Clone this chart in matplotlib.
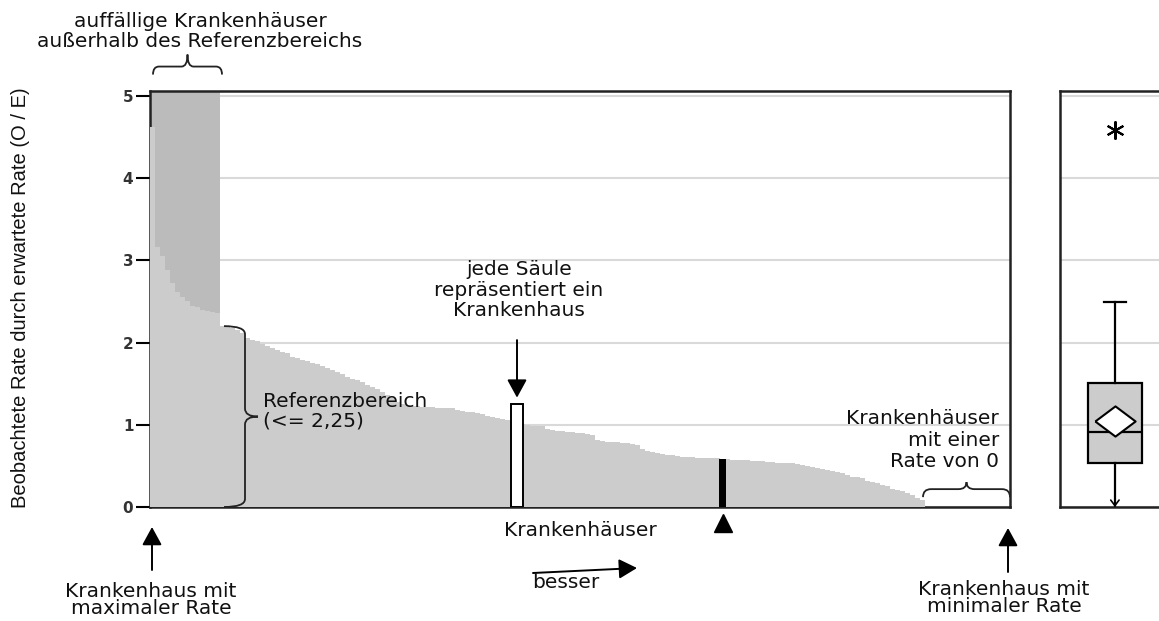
import matplotlib.pyplot as plt
from matplotlib.path import Path
from matplotlib.patches import PathPatch
from matplotlib.transforms import IdentityTransform

# O/E rate per hospital, sorted from highest to lowest
rate = [4.62, 3.16, 3.05, 2.88, 2.72, 2.62, 2.55, 2.50, 2.45, 2.43, 2.40, 2.38, 2.37, 2.36,
        2.20, 2.19, 2.18, 2.15, 2.12, 2.05, 2.03, 2.02,
        1.98, 1.96, 1.93, 1.91, 1.89, 1.87, 1.82, 1.81, 1.79, 1.77, 1.75, 1.74,
        1.72, 1.69, 1.67, 1.64, 1.62, 1.58, 1.56, 1.54, 1.52, 1.49, 1.46,
        1.44, 1.40, 1.36, 1.33, 1.28, 1.25, 1.24, 1.23, 1.23, 1.22, 1.22, 1.22, 1.21, 1.21, 1.20, 1.20,
        1.18, 1.17, 1.16, 1.15, 1.14, 1.13, 1.11, 1.09, 1.08, 1.07, 1.06, 1.04, 1.02, 1.01,
        1.00, 0.99, 0.99, 0.98, 0.95, 0.94, 0.93, 0.92, 0.91, 0.91, 0.90, 0.90, 0.89, 0.88,
        0.82, 0.80, 0.79, 0.79, 0.79, 0.78, 0.78, 0.77, 0.75, 0.71, 0.68, 0.67, 0.66,
        0.64, 0.63, 0.63, 0.62, 0.61, 0.61, 0.61, 0.60, 0.60, 0.60, 0.60, 0.59, 0.58, 0.58,
        0.57, 0.57, 0.57, 0.57, 0.56, 0.56, 0.56, 0.55, 0.55, 0.54, 0.53, 0.53, 0.53, 0.52,
        0.51, 0.50, 0.49, 0.48, 0.46, 0.45, 0.44, 0.43, 0.41, 0.39, 0.37, 0.36, 0.35,
        0.32, 0.30, 0.29, 0.27, 0.25, 0.22, 0.21, 0.19, 0.17, 0.14, 0.11, 0.08,
        0, 0, 0, 0, 0, 0, 0, 0, 0, 0, 0, 0, 0, 0, 0, 0, 0]
# hospitals above the reference range (off scale, clipped at the top of the axis)
outlier_rate = [5.06, 5.06, 5.06, 5.06, 5.06, 5.06, 5.06, 5.06, 5.06, 5.06, 5.06, 5.06, 5.06, 5.06]
ref_limit = 2.25

# illustrative single bars
white_idx, white_rate = 73, 1.25
black_idx, black_rate = 114, 0.58

# box plot summary
box_stats = [dict(med=0.91, q1=0.535, q3=1.51, whislo=0.0, whishi=2.49, mean=1.04, fliers=[4.59])]

yticks = [0, 1, 2, 3, 4, 5]

light = '#cccccc'
dark = '#bbbbbb'
txt = '#111111'
plt.rcParams['font.family'] = 'DejaVu Sans'

W, H = 1159, 621
fig = plt.figure(figsize=(W / 100, H / 100), dpi=100)


def fx(x):
    return x / W


def fy(y):
    return 1 - y / H


ax = fig.add_axes([fx(150), fy(507), (1010 - 150) / W, (507 - 91) / H])
bx = fig.add_axes([fx(1060), fy(507), 112 / W, (507 - 91) / H])

n = len(rate)
idx = list(range(n))
ax.bar(idx[:len(outlier_rate)], outlier_rate, width=1, align='edge', color=dark, lw=0, zorder=2)
ax.bar(idx, rate, width=1, align='edge', color=light, lw=0, zorder=3)
ax.bar(white_idx + 0.4, white_rate, width=2.4, color='white', edgecolor='black', lw=1.4, zorder=4)
ax.bar(black_idx + 0.5, black_rate, width=1.4, color='black', lw=0, zorder=4)
ax.plot([black_idx + 0.5], [-0.2], marker='^', ms=13, color='black', clip_on=False, zorder=5)

ax.set_xlim(0, n)
ax.set_ylim(0, 5.06)
ax.set_xticks([])
ax.set_yticks(yticks)
ax.grid(axis='y', color='#d9d9d9', lw=1.5)
ax.set_axisbelow(True)
ax.tick_params(axis='y', length=10, width=1.5, labelsize=11, pad=2, labelcolor='#333333')
for lab in ax.get_yticklabels():
    lab.set_fontweight('bold')
for s in ax.spines.values():
    s.set_linewidth(1.8)
    s.set_color('#222222')

# box plot panel
res = bx.bxp(box_stats, positions=[1], widths=0.98, capwidths=0.4, patch_artist=True, showmeans=True,
             boxprops=dict(facecolor=light, edgecolor='black', lw=1.6),
             medianprops=dict(color='black', lw=1.6),
             whiskerprops=dict(color='black', lw=1.6),
             capprops=dict(color='black', lw=1.6),
             meanprops=dict(marker=[(-1, 0), (0, 0.75), (1, 0), (0, -0.75), (-1, 0)], ms=29,
                            mfc='white', mec='black', mew=1.5),
             flierprops=dict(marker=(6, 2, 0), ms=13, mec='black', mew=1.5))
res['caps'][0].set_visible(False)
bx.annotate('', xy=(1, 0.0), xytext=(1, 0.2),
            arrowprops=dict(arrowstyle='->,head_length=0.4,head_width=0.3', color='black', lw=1.2,
                            shrinkA=0, shrinkB=0))
bx.set_xlim(0, 2.04)
bx.set_ylim(0, 5.06)
bx.set_xticks([])
bx.set_yticks(yticks)
bx.grid(axis='y', color='#d9d9d9', lw=1.5)
bx.set_axisbelow(True)
bx.tick_params(left=False, labelleft=False)
for s in bx.spines.values():
    s.set_linewidth(1.8)
    s.set_color('#222222')


def brace(p0, p1, h1, depth, r):
    # curly brace between two data points, bulging to the left of p0 -> p1 (sizes in pixels)
    a = ax.transData.transform(p0)
    b = ax.transData.transform(p1)
    d = b - a
    L = (d[0] ** 2 + d[1] ** 2) ** 0.5
    u = d / L
    nrm = [-u[1], u[0]]
    local = [(0, 0), (0, h1), (r, h1), (L / 2 - r, h1), (L / 2, h1), (L / 2, depth),
             (L / 2, h1), (L / 2 + r, h1), (L - r, h1), (L, h1), (L, 0)]
    verts = [(a[0] + u[0] * s + nrm[0] * t, a[1] + u[1] * s + nrm[1] * t) for s, t in local]
    codes = [Path.MOVETO, Path.CURVE3, Path.CURVE3, Path.LINETO, Path.CURVE3, Path.CURVE3,
             Path.CURVE3, Path.CURVE3, Path.LINETO, Path.CURVE3, Path.CURVE3]
    fig.add_artist(PathPatch(Path(verts, codes), fill=False, lw=1.3, ec='#222222',
                             transform=IdentityTransform(), clip_on=False, zorder=6))


n_out = len(outlier_rate)
n_zero = rate.count(0)
brace((0.6, 5.26), (n_out + 0.4, 5.26), 8, 20, 6)
brace((n_out + 0.8, ref_limit - 0.05), (n_out + 0.8, 0.0), 21, 34, 8)
brace((n - n_zero - 0.4, 0.12), (n, 0.12), 8, 15, 8)

arrow = dict(arrowstyle='-|>,head_length=1.1,head_width=0.6', color='black', lw=1.4, shrinkA=0, shrinkB=0)
ax.annotate('', xy=(white_idx + 0.4, white_rate + 0.08), xytext=(white_idx + 0.4, 2.03), arrowprops=arrow)
ax.annotate('', xy=(0.4, H - 527), xytext=(0.4, H - 570), xycoords=('data', 'figure pixels'),
            textcoords=('data', 'figure pixels'), arrowprops=arrow, annotation_clip=False)
ax.annotate('', xy=(n - 0.4, H - 528), xytext=(n - 0.4, H - 572), xycoords=('data', 'figure pixels'),
            textcoords=('data', 'figure pixels'), arrowprops=arrow, annotation_clip=False)
fig.add_artist(plt.Annotation('', xy=(637, H - 568), xytext=(533, H - 573), xycoords='figure pixels',
                              arrowprops=arrow))

fs = 14.5
fig.text(fx(200), fy(31.5), 'auffällige Krankenhäuser\naußerhalb des Referenzbereichs', ha='center', va='center',
         fontsize=fs, color=txt, linespacing=1.1)
fig.text(fx(519), fy(290), 'jede Säule\nrepräsentiert ein\nKrankenhaus', ha='center', va='center',
         fontsize=fs, color=txt, linespacing=1.1)
fig.text(fx(263), fy(411.5), 'Referenzbereich\n(<= 2,25)', ha='left', va='center',
         fontsize=fs, color=txt, linespacing=1.05)
fig.text(fx(999), fy(440), 'Krankenhäuser\nmit einer\nRate von 0', ha='right', va='center',
         fontsize=fs, color=txt, linespacing=1.15)
fig.text(fx(580), fy(530), 'Krankenhäuser', ha='center', va='center', fontsize=fs, color=txt)
fig.text(fx(566), fy(582), 'besser', ha='center', va='center', fontsize=fs, color=txt)
fig.text(fx(151), fy(600), 'Krankenhaus mit\nmaximaler Rate', ha='center', va='center',
         fontsize=fs, color=txt, linespacing=0.9)
fig.text(fx(1004), fy(598), 'Krankenhaus mit\nminimaler Rate', ha='center', va='center',
         fontsize=fs, color=txt, linespacing=0.9)
fig.text(fx(21), fy(298), 'Beobachtete Rate durch erwartete Rate (O / E)', rotation=90, ha='center',
         va='center', fontsize=14.5, family='Liberation Sans', color=txt)

fig.savefig('out.png', dpi=100)
